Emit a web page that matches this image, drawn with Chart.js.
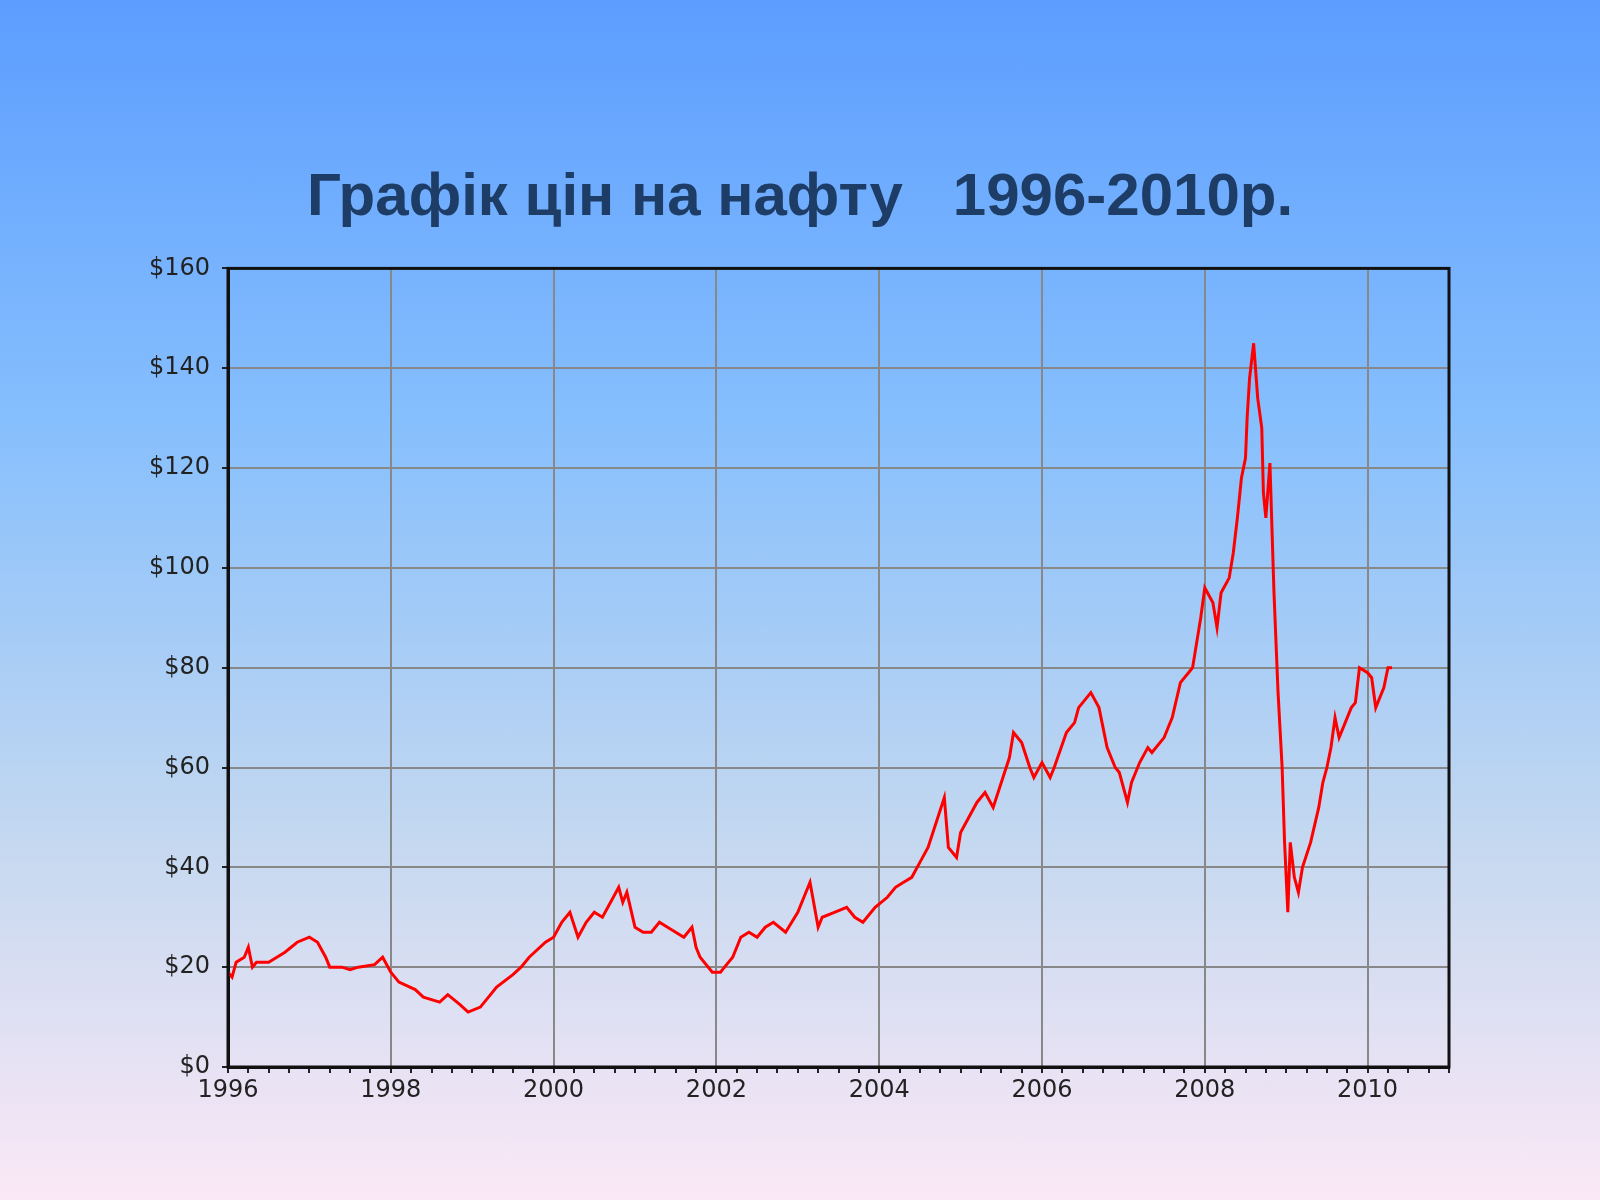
<!DOCTYPE html>
<html><head><meta charset="utf-8">
<script src="https://cdn.jsdelivr.net/npm/chart.js@4"></script>
<style>
html,body{margin:0;width:1600px;height:1200px;overflow:hidden}
body{background:linear-gradient(#5c9dff 0%,#86bffd 35%,#c4d8f0 70%,#fbe8f6 100%);font-family:"Liberation Sans",Arial,sans-serif}
h1{position:absolute;top:160px;left:0;width:1600px;text-align:center;margin:0;font-size:60px;color:#1d3d66;font-weight:bold}
#wrap{position:absolute;left:124px;top:242px;width:1330px;height:880px}
</style></head><body>
<h1>Графік цін на нафту&nbsp;&nbsp; 1996-2010р.</h1>
<div id="wrap"><canvas id="c"></canvas></div>
<script>
// oil price, decimal year -> USD per barrel
const years = [1996.0,1996.05,1996.1,1996.2,1996.25,1996.3,1996.35,1996.5,1996.6,1996.7,1996.85,1997.0,1997.1,1997.2,1997.25,1997.4,1997.5,1997.6,1997.8,1997.9,1998.0,1998.1,1998.3,1998.4,1998.5,1998.6,1998.7,1998.85,1998.95,1999.1,1999.2,1999.3,1999.5,1999.6,1999.7,1999.9,2000.0,2000.1,2000.2,2000.3,2000.4,2000.5,2000.6,2000.7,2000.8,2000.85,2000.9,2001.0,2001.1,2001.2,2001.3,2001.4,2001.5,2001.6,2001.7,2001.75,2001.8,2001.95,2002.05,2002.1,2002.2,2002.3,2002.4,2002.5,2002.6,2002.7,2002.85,2003.0,2003.1,2003.15,2003.25,2003.3,2003.45,2003.6,2003.7,2003.8,2003.95,2004.1,2004.2,2004.3,2004.4,2004.5,2004.6,2004.7,2004.8,2004.85,2004.95,2005.0,2005.1,2005.2,2005.3,2005.4,2005.5,2005.6,2005.65,2005.75,2005.85,2005.9,2006.0,2006.1,2006.15,2006.3,2006.4,2006.45,2006.55,2006.6,2006.7,2006.8,2006.9,2006.95,2007.05,2007.1,2007.2,2007.3,2007.35,2007.5,2007.6,2007.7,2007.8,2007.85,2007.95,2008.0,2008.1,2008.15,2008.2,2008.3,2008.35,2008.4,2008.45,2008.5,2008.52,2008.55,2008.6,2008.65,2008.7,2008.72,2008.75,2008.8,2008.85,2008.9,2008.95,2008.98,2009.02,2009.05,2009.1,2009.15,2009.2,2009.3,2009.4,2009.45,2009.5,2009.55,2009.6,2009.65,2009.7,2009.8,2009.85,2009.9,2010.0,2010.05,2010.1,2010.2,2010.25,2010.3];
const prices = [19,18,21,22,24,20,21,21,22,23,25,26,25,22,20,20,19.5,20,20.5,22,19,17,15.5,14,13.5,13,14.5,12.5,11,12,14,16,18.5,20,22,25,26,29,31,26,29,31,30,33,36,33,35,28,27,27,29,28,27,26,28,24,22,19,19,20,22,26,27,26,28,29,27,31,35,37,28,30,31,32,30,29,32,34,36,37,38,41,44,49,54,44,42,47,50,53,55,52,57,62,67,65,60,58,61,58,60,67,69,72,74,75,72,64,60,59,53,57,61,64,63,66,70,77,79,80,90,96,93,88,95,98,103,110,118,122,130,138,145,134,128,115,110,121,95,75,60,45,31,45,38,35,40,45,52,57,60,64,70,66,68,72,73,80,79,78,72,76,80,80,84,85];

new Chart(document.getElementById('c'), {
  type: 'line',
  data: { datasets: [{
    data: years.map((x, i) => ({x: x, y: prices[i]})),
    borderColor: '#ff0000', borderWidth: 3, pointRadius: 0, tension: 0
  }]},
  options: {
    responsive: true, maintainAspectRatio: false, animation: false,
    layout: { padding: { top: 0, right: 5 } },
    plugins: { legend: { display: false }, tooltip: { enabled: false } },
    scales: {
      x: {
        type: 'linear', min: 1996, max: 2011,
        afterFit: s => { s.height = 55; },
        afterBuildTicks: s => { s.ticks = []; for (let q = 0; q <= 60; q++) s.ticks.push({value: 1996 + q / 4}); },
        ticks: { autoSkip: false, maxRotation: 0, color: '#222', font: { family: 'DejaVu Sans', size: 24 },
          callback: v => (Math.abs(v - Math.round(v)) < 1e-6 && Math.round(v) % 2 === 0 && v < 2011) ? String(Math.round(v)) : '' },
        grid: { lineWidth: 2, color: c => { const v = c.tick.value; return (Math.abs(v - Math.round(v)) < 1e-6 && Math.round(v) % 2 === 0) ? '#888' : 'rgba(0,0,0,0)'; },
          tickColor: '#222', tickLength: 6 },
        border: { color: '#111', width: 3 }
      },
      y: {
        min: 0, max: 160,
        afterFit: s => { s.width = 104; },
        ticks: { stepSize: 20, color: '#222', padding: 12, font: { family: 'DejaVu Sans', size: 24 }, callback: v => '$' + v },
        grid: { lineWidth: 2, color: '#888', tickColor: '#222', tickLength: 6 },
        border: { color: '#111', width: 3 }
      }
    }
  },
  plugins: [{ id: 'frame', afterDraw(ch) {
    const a = ch.chartArea, g = ch.ctx;
    g.save(); g.strokeStyle = '#111'; g.lineWidth = 3;
    g.strokeRect(a.left, a.top, a.right - a.left, a.bottom - a.top); g.restore();
  }}]
});
</script>
</body></html>
